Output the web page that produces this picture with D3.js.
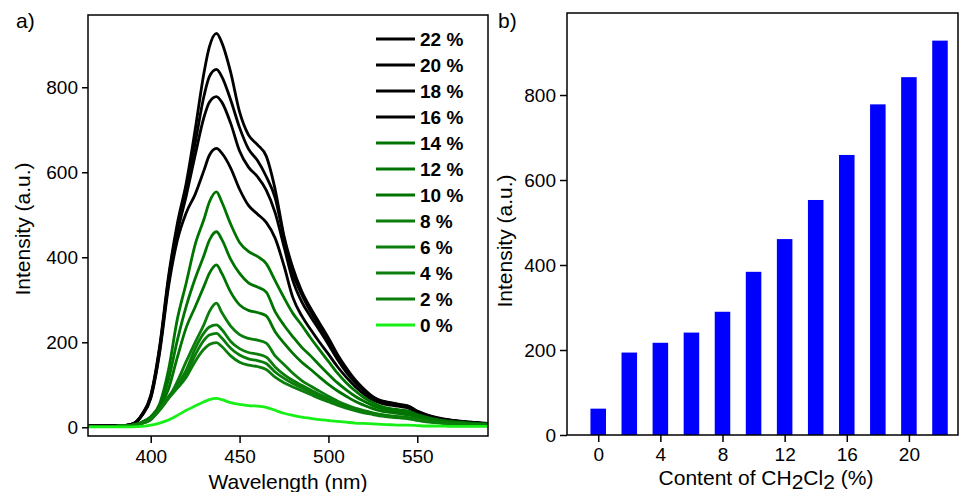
<!DOCTYPE html>
<html>
<head>
<meta charset="utf-8">
<script src="https://cdn.jsdelivr.net/npm/d3@7"></script>
<style>
    body { margin: 0; background: #fff; }
    svg { display: block; font-family: "Liberation Sans", Arial, sans-serif; }
</style>
</head>
<body>
<svg id="chart" width="959" height="492"></svg>
<script>
// ---- panel a) emission spectra ----
var wavelength = [365, 380, 385, 390, 395, 400, 405, 410, 415, 420, 425, 430, 433, 437, 440, 445, 450, 455, 460, 465,
    470, 475, 480, 485, 490, 495, 500, 505, 510, 515, 520, 525, 530, 535, 540, 545, 550, 555, 560, 570, 580, 590];

var s22 = [3, 3, 4, 8, 30, 75, 190, 355, 480, 575, 700, 835, 895, 927, 905, 835, 742, 688, 665, 638,
    560, 450, 375, 320, 280, 245, 210, 172, 140, 112, 90, 72, 62, 58, 54, 50, 38, 30, 24, 16, 12, 9];
var s20 = [3, 3, 4, 8, 29, 73, 185, 348, 470, 562, 668, 780, 825, 842, 825, 770, 705, 655, 628, 590,
    540, 445, 362, 312, 272, 238, 203, 166, 135, 109, 87, 71, 61, 57, 53, 49, 37, 29, 23, 16, 12, 9];
var s18 = [3, 3, 4, 8, 28, 70, 180, 340, 458, 545, 640, 730, 765, 778, 765, 715, 650, 612, 590, 558,
    505, 425, 345, 295, 260, 228, 195, 160, 130, 105, 85, 69, 60, 56, 52, 48, 36, 28, 22, 15, 11, 8];
var s16 = [3, 3, 4, 8, 27, 68, 175, 330, 440, 505, 548, 605, 640, 656, 645, 610, 560, 522, 502, 482,
    445, 380, 305, 262, 230, 200, 172, 143, 118, 96, 78, 64, 56, 52, 49, 45, 34, 27, 21, 15, 11, 8];
var s14 = [2, 2, 3, 5, 12, 25, 55, 135, 255, 340, 430, 490, 530, 554, 530, 478, 435, 414, 402, 385,
    345, 305, 268, 240, 210, 182, 155, 128, 105, 86, 70, 58, 49, 44, 41, 38, 30, 24, 19, 13, 10, 8];
var s12 = [2, 2, 3, 5, 12, 24, 50, 112, 205, 285, 350, 405, 440, 460, 442, 395, 362, 340, 330, 318,
    272, 240, 213, 188, 168, 146, 125, 105, 88, 73, 61, 51, 44, 40, 37, 34, 27, 22, 17, 12, 9, 7];
var s10 = [2, 2, 3, 5, 11, 22, 46, 90, 165, 235, 283, 332, 362, 382, 362, 318, 288, 275, 270, 262,
    225, 198, 174, 153, 136, 118, 101, 86, 73, 61, 52, 44, 38, 35, 32, 29, 24, 19, 15, 11, 8, 6];
var s8 = [2, 2, 3, 5, 10, 20, 40, 68, 108, 155, 200, 242, 272, 292, 270, 238, 218, 209, 205, 198,
    168, 148, 127, 110, 97, 85, 73, 62, 53, 45, 39, 34, 30, 27, 25, 23, 19, 16, 13, 9, 7, 5];
var s6 = [2, 2, 3, 5, 9, 18, 42, 72, 100, 135, 185, 222, 236, 241, 230, 202, 185, 176, 172, 165,
    142, 124, 110, 99, 88, 77, 67, 58, 50, 43, 37, 33, 29, 26, 24, 22, 18, 15, 12, 9, 7, 5];
var s4 = [2, 2, 3, 5, 9, 18, 42, 70, 96, 126, 170, 205, 217, 221, 210, 186, 170, 161, 157, 150,
    130, 115, 103, 93, 83, 73, 64, 56, 48, 42, 36, 32, 28, 25, 23, 21, 17, 14, 12, 8, 6, 5];
var s2 = [2, 2, 3, 5, 9, 18, 42, 68, 92, 118, 155, 184, 195, 199, 190, 168, 153, 146, 143, 136,
    118, 105, 95, 86, 77, 68, 60, 52, 45, 39, 34, 30, 26, 24, 22, 20, 16, 13, 11, 8, 6, 5];
var s0 = [1, 1, 1, 1, 2, 5, 10, 17, 28, 40, 50, 60, 65, 68, 65, 58, 54, 51, 50, 47,
    40, 33, 28, 24, 21, 18, 16, 14, 12, 10, 9, 8, 7, 6, 5, 5, 4, 3, 3, 2, 2, 2];

var seriesLabels = ["22 %", "20 %", "18 %", "16 %", "14 %", "12 %", "10 %", "8 %", "6 %", "4 %", "2 %", "0 %"];
var seriesValues = [s22, s20, s18, s16, s14, s12, s10, s8, s6, s4, s2, s0];
var lineColors = ["#000", "#000", "#000", "#000", "#007400", "#007400", "#007400",
    "#0b7d0b", "#0b7d0b", "#0b7d0b", "#0b7d0b", "#16f016"];

var leftXTicks = [400, 450, 500, 550];
var leftYTicks = [0, 200, 400, 600, 800];

// ---- panel b) peak intensity vs CH2Cl2 content ----
var barContent = [0, 2, 4, 6, 8, 10, 12, 14, 16, 18, 20, 22];
var barIntensity = [62, 194, 217, 241, 290, 384, 461, 553, 659, 778, 842, 928];
var rightXTicks = [0, 4, 8, 12, 16, 20];
var rightYTicks = [0, 200, 400, 600, 800];

var svg = d3.select("#chart");

function styleAxis(g) {
    g.select(".domain").remove();
    g.selectAll("line").attr("stroke", "#000").attr("stroke-width", 1.5);
    g.selectAll("text").attr("fill", "#000").style("font-size", "19px")
        .style("font-family", '"Liberation Sans", Arial, sans-serif');
}

// ================= panel a =================
var a = { left: 88, top: 15, right: 488, bottom: 436 };

var xA = d3.scaleLinear().domain([364.7, 589.8]).range([a.left, a.right]);
var yA = d3.scaleLinear().domain([-20.5, 970]).range([a.bottom, a.top]);

svg.append("clipPath").attr("id", "clipA")
    .append("rect")
    .attr("x", a.left).attr("y", a.top)
    .attr("width", a.right - a.left).attr("height", a.bottom - a.top);

var line = d3.line()
    .x(function (d, i) { return xA(wavelength[i]); })
    .y(function (d) { return yA(d); })
    .curve(d3.curveMonotoneX);

var series = seriesValues.map(function (v, i) {
    return { label: seriesLabels[i], values: v, color: lineColors[i] };
});

svg.append("g").attr("clip-path", "url(#clipA)")
    .selectAll("path")
    .data(series)
    .enter()
    .append("path")
    .attr("d", function (d) { return line(d.values); })
    .attr("fill", "none")
    .attr("stroke", function (d) { return d.color; })
    .attr("stroke-width", 2.8)
    .attr("stroke-linejoin", "round");

svg.append("g")
    .attr("transform", "translate(" + a.left + ",0)")
    .call(d3.axisLeft(yA).tickValues(leftYTicks).tickSize(6).tickSizeOuter(0).tickPadding(4))
    .call(styleAxis);

svg.append("g")
    .attr("transform", "translate(0," + a.bottom + ")")
    .call(d3.axisBottom(xA).tickValues(leftXTicks).tickSize(7).tickSizeOuter(0).tickPadding(7))
    .call(styleAxis);

svg.append("rect")
    .attr("x", a.left).attr("y", a.top)
    .attr("width", a.right - a.left).attr("height", a.bottom - a.top)
    .attr("fill", "none").attr("stroke", "#000").attr("stroke-width", 1.5);

// legend
var legend = svg.append("g").selectAll("g")
    .data(series)
    .enter()
    .append("g")
    .attr("transform", function (d, i) { return "translate(376," + (39 + i * 26) + ")"; });

legend.append("line")
    .attr("x1", 0).attr("x2", 39)
    .attr("stroke", function (d) { return d.color; })
    .attr("stroke-width", 3);

legend.append("text")
    .attr("x", 44)
    .attr("dy", "0.36em")
    .style("font-size", "19px")
    .style("font-weight", "bold")
    .text(function (d) { return d.label; });

svg.append("text")
    .attr("transform", "translate(30,229) rotate(-90)")
    .attr("text-anchor", "middle")
    .style("font-size", "21px")
    .text("Intensity (a.u.)");

svg.append("text")
    .attr("x", (a.left + a.right) / 2)
    .attr("y", 489)
    .attr("text-anchor", "middle")
    .style("font-size", "21px")
    .text("Wavelength (nm)");

svg.append("text")
    .attr("x", 16).attr("y", 28)
    .style("font-size", "21px")
    .text("a)");

// ================= panel b =================
var b = { left: 567, top: 13, right: 958, bottom: 435 };

var xB = d3.scaleLinear().domain([-2.01, 23.16]).range([b.left, b.right]);
var yB = d3.scaleLinear().domain([0, 993]).range([b.bottom, b.top]);

svg.append("g")
    .selectAll("rect")
    .data(barContent)
    .enter()
    .append("rect")
    .attr("x", function (d) { return xB(d - 0.5); })
    .attr("y", function (d, i) { return yB(barIntensity[i]); })
    .attr("width", function (d) { return xB(d + 0.5) - xB(d - 0.5); })
    .attr("height", function (d, i) { return yB(0) - yB(barIntensity[i]); })
    .attr("fill", "#0000ff");

svg.append("g")
    .attr("transform", "translate(" + b.left + ",0)")
    .call(d3.axisLeft(yB).tickValues(rightYTicks).tickSize(7).tickSizeOuter(0).tickPadding(4))
    .call(styleAxis);

svg.append("g")
    .attr("transform", "translate(0," + b.bottom + ")")
    .call(d3.axisBottom(xB).tickValues(rightXTicks).tickSize(7).tickSizeOuter(0).tickPadding(6))
    .call(styleAxis);

svg.append("rect")
    .attr("x", b.left).attr("y", b.top)
    .attr("width", b.right - b.left).attr("height", b.bottom - b.top)
    .attr("fill", "none").attr("stroke", "#000").attr("stroke-width", 1.5);

svg.append("text")
    .attr("transform", "translate(512,241) rotate(-90)")
    .attr("text-anchor", "middle")
    .style("font-size", "21px")
    .text("Intensity (a.u.)");

var xt = svg.append("text")
    .attr("x", 766)
    .attr("y", 485)
    .attr("text-anchor", "middle")
    .style("font-size", "21px");
xt.append("tspan").text("Content of CH");
xt.append("tspan").attr("dy", 4).text("2");
xt.append("tspan").attr("dy", -4).text("Cl");
xt.append("tspan").attr("dy", 4).text("2");
xt.append("tspan").attr("dy", -4).text(" (%)");

svg.append("text")
    .attr("x", 498).attr("y", 28)
    .style("font-size", "21px")
    .text("b)");
</script>
</body>
</html>
